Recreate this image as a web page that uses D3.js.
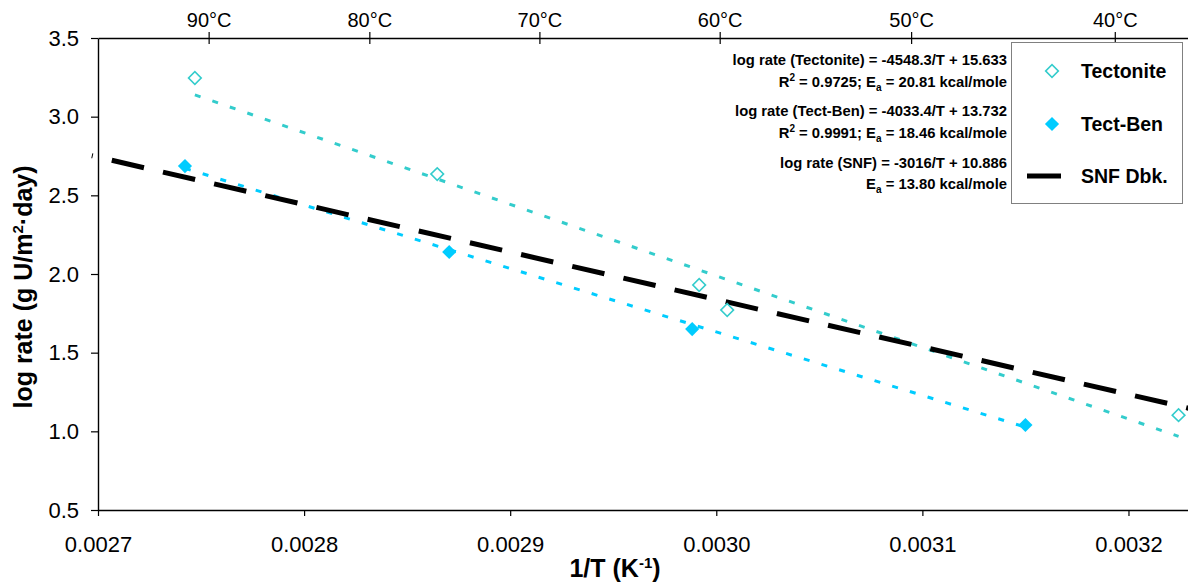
<!DOCTYPE html>
<html><head><meta charset="utf-8">
<script src="https://cdn.jsdelivr.net/npm/d3@7"></script>
<style>
body{margin:0;background:#fff}
text{font-family:"Liberation Sans",Arial,sans-serif}
</style>
</head><body>
<svg id="c" width="1188" height="584"></svg>
<script>
// ---- data ----
const tectoniteX = [0.002747, 0.0028646, 0.0029917, 0.0030053, 0.0032243];
const tectoniteY = [3.246, 2.635, 1.930, 1.771, 1.103];
const tectBenX = [0.0027422, 0.0028704, 0.0029883, 0.0031500];
const tectBenY = [2.686, 2.140, 1.650, 1.040];
const fitNames = ["Tectonite", "Tect-Ben", "SNF"];
const fitSlopes = [-4548.3, -4033.4, -3016];
const fitIntercepts = [15.633, 13.732, 10.886];
const fitStart = [0.002747, 0.0027422, 0.002697];
const fitEnd = [0.0032243, 0.00315, 0.00323];
const xTicks = [0.0027, 0.0028, 0.0029, 0.0030, 0.0031, 0.0032];
const yTicks = [0.5, 1.0, 1.5, 2.0, 2.5, 3.0, 3.5];
const tempTicksC = [90, 80, 70, 60, 50, 40];
const legendLabels = ["Tectonite", "Tect-Ben", "SNF Dbk."];
// annotation lines: segments [text, kind] kind: n normal, sup, sub
const annotationLines = [
  [["log rate (Tectonite) = -4548.3/T + 15.633","n"]],
  [["R","n"],["2","sup"],[" = 0.9725; E","n"],["a","sub"],[" = 20.81 kcal/mole","n"]],
  [["log rate (Tect-Ben) = -4033.4/T + 13.732","n"]],
  [["R","n"],["2","sup"],[" = 0.9991; E","n"],["a","sub"],[" = 18.46 kcal/mole","n"]],
  [["log rate (SNF) = -3016/T + 10.886","n"]],
  [["E","n"],["a","sub"],[" = 13.80 kcal/mole","n"]]
];

const colTect = "#33CCCC", colBen = "#00CCFF";
const svg = d3.select("#c");
const x = d3.scaleLinear().domain([0.0027, 0.00323]).range([98, 1190.3]);
const y = d3.scaleLinear().domain([0.5, 3.5]).range([510, 38]);

// axes
const gB = svg.append("g").attr("transform","translate(0,510)")
  .call(d3.axisBottom(x).tickValues(xTicks).tickFormat(d3.format(".4f")).tickSize(6).tickSizeOuter(0).tickPadding(20));
const gL = svg.append("g").attr("transform","translate(98,0)")
  .call(d3.axisLeft(y).tickValues(yTicks).tickFormat(d3.format(".1f")).tickSize(7).tickSizeOuter(0).tickPadding(12));
const gT = svg.append("g").attr("transform","translate(0,38)")
  .call(d3.axisTop(x).tickValues(tempTicksC.map(c => 1/(c+273.15))).tickFormat((d,i) => tempTicksC[i] + "°C").tickSize(6).tickSizeOuter(0).tickPadding(5));
gT.selectAll(".tick line").attr("y1", 6).attr("y2", -6);
[gB,gL,gT].forEach(g => {
  g.selectAll("path.domain").attr("stroke","#000").attr("stroke-width",1.4);
  g.selectAll(".tick line").attr("stroke","#000").attr("stroke-width",1.2);
  g.selectAll("text").attr("font-family","Liberation Sans, Arial, sans-serif").attr("font-size",22).attr("fill","#000");
});
gT.selectAll("text").attr("font-size",20);

// titles
const yt = svg.append("text").attr("transform","translate(32,287) rotate(-90)")
  .attr("text-anchor","middle").attr("font-weight","bold").attr("font-size",25);
yt.append("tspan").text("log rate (g U/m");
yt.append("tspan").attr("dy",-9).attr("font-size",15).text("2");
yt.append("tspan").attr("dy",9).text("·day)");
const xt = svg.append("text").attr("x",615).attr("y",577)
  .attr("text-anchor","middle").attr("font-weight","bold").attr("font-size",25);
xt.append("tspan").text("1/T (K");
xt.append("tspan").attr("dy",-9).attr("font-size",15).text("-1");
xt.append("tspan").attr("dy",9).text(")");

// fit lines
const line = d3.line().x(d => x(d[0])).y(d => y(d[1]));
const fitColors = [colTect, colBen, "#000"];
const fitWidths = [3, 3, 5];
const fitDash = ["6,12.5", "6,12.5", "33,19.5"];
const fitOffset = [0, 0, 32];
fitNames.forEach((n,i) => {
  const pts = [fitStart[i], fitEnd[i]].map(v => [v, fitSlopes[i]*v + fitIntercepts[i]]);
  svg.append("path").attr("d", line(pts)).attr("fill","none")
    .attr("stroke", fitColors[i]).attr("stroke-width", fitWidths[i])
    .attr("stroke-dasharray", fitDash[i]).attr("stroke-dashoffset", fitOffset[i]);
});

// markers
const diamondOpen = d3.symbol().type(d3.symbolSquare).size(80)();
const diamondFill = d3.symbol().type(d3.symbolSquare).size(100)();
svg.append("g").selectAll("path").data(tectoniteX).join("path")
  .attr("d", diamondOpen)
  .attr("transform",(d,i) => `translate(${x(d)},${y(tectoniteY[i])}) rotate(45)`)
  .attr("fill","#fff").attr("stroke",colTect).attr("stroke-width",1.6);
svg.append("g").selectAll("path").data(tectBenX).join("path")
  .attr("d", diamondFill)
  .attr("transform",(d,i) => `translate(${x(d)},${y(tectBenY[i])}) rotate(45)`)
  .attr("fill",colBen);

// annotations
const annBaselines = [65, 87, 116, 138, 168, 189];
annotationLines.forEach((segs,i) => {
  const t = svg.append("text").attr("x",1007).attr("y",annBaselines[i])
    .attr("text-anchor","end").attr("font-weight","bold").attr("font-size",14.8);
  let shift = 0;
  segs.forEach(([s,k]) => {
    const target = k === "sup" ? -6 : k === "sub" ? 4 : 0;
    t.append("tspan").attr("dy", target - shift).attr("font-size", k === "n" ? 14.8 : 10).text(s);
    shift = target;
  });
});

// legend
svg.append("rect").attr("x",1011.5).attr("y",42.5).attr("width",171).attr("height",161)
  .attr("fill","#fff").attr("stroke","#808080").attr("stroke-width",1);
const legY = [71, 124, 176];
svg.append("path").attr("d", diamondOpen).attr("transform",`translate(1052,${legY[0]}) rotate(45)`)
  .attr("fill","#fff").attr("stroke",colTect).attr("stroke-width",1.6);
svg.append("path").attr("d", diamondFill).attr("transform",`translate(1052,${legY[1]}) rotate(45)`)
  .attr("fill",colBen);
svg.append("line").attr("x1",1027).attr("x2",1061).attr("y1",legY[2]).attr("y2",legY[2])
  .attr("stroke","#000").attr("stroke-width",5);
legendLabels.forEach((l,i) => {
  svg.append("text").attr("x",1081).attr("y",legY[i]).attr("dy","0.36em")
    .attr("font-weight","bold").attr("font-size",19.5).text(l);
});
</script>
</body></html>
